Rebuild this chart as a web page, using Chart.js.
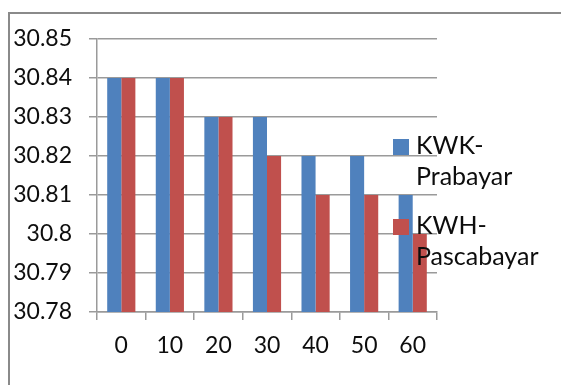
<!DOCTYPE html>
<html>
<head>
<meta charset="utf-8">
<script src="https://cdn.jsdelivr.net/npm/chart.js@4/dist/chart.umd.min.js"></script>
<style>
  html, body { margin: 0; padding: 0; background: #ffffff; }
  #wrap { width: 561px; height: 385px; }
</style>
</head>
<body>
<div id="wrap"><canvas id="c" width="561" height="385"></canvas></div>
<script>
// Meter readings per time step (minutes)
const categories = ['0', '10', '20', '30', '40', '50', '60'];
const kwkPrabayar = [30.84, 30.84, 30.83, 30.83, 30.82, 30.82, 30.81];
const kwhPascabayar = [30.84, 30.84, 30.83, 30.82, 30.81, 30.81, 30.80];
const seriesNames = ['KWK-Prabayar', 'KWH-Pascabayar'];
const yTickLabels = ['30.78', '30.79', '30.8', '30.81', '30.82', '30.83', '30.84', '30.85'];

const FONT = 'Lato, "Open Sans", sans-serif';
const FONT_SIZE = 23;
const LEGEND_FONT_SIZE = 25;
const TEXT = '#0d0d0d';
const GRID = '#9a9a9a';

// Outer frame and a legend laid over the right side of the plot
const frameAndLegend = {
  id: 'frameAndLegend',
  beforeDraw(chart) {
    const ctx = chart.ctx;
    ctx.save();
    ctx.fillStyle = '#ffffff';
    ctx.fillRect(0, 0, chart.width, chart.height);
    ctx.strokeStyle = '#8a8a8a';
    ctx.lineWidth = 2;
    ctx.beginPath();
    ctx.moveTo(9, chart.height + 2);
    ctx.lineTo(9, 13);
    ctx.lineTo(chart.width + 2, 13);
    ctx.stroke();
    ctx.restore();
  },
  afterDraw(chart) {
    const ctx = chart.ctx;
    ctx.save();
    ctx.font = LEGEND_FONT_SIZE + 'px ' + FONT;
    ctx.textBaseline = 'alphabetic';
    ctx.textAlign = 'left';
    const tops = [139, 219];
    chart.data.datasets.forEach((ds, i) => {
      const top = tops[i];
      ctx.fillStyle = ds.backgroundColor;
      ctx.fillRect(393, top, 16, 16);
      const cut = ds.label.indexOf('-') + 1;
      const lines = [ds.label.slice(0, cut), ds.label.slice(cut)];
      ctx.fillStyle = TEXT;
      ctx.fillText(lines[0], 416, top + 15);
      ctx.fillText(lines[1], 416, top + 46);
    });
    ctx.restore();
  }
};

new Chart(document.getElementById('c'), {
  type: 'bar',
  data: {
    labels: categories,
    datasets: [
      { label: seriesNames[0], data: kwkPrabayar, backgroundColor: '#4F81BD' },
      { label: seriesNames[1], data: kwhPascabayar, backgroundColor: '#C0504D' }
    ]
  },
  plugins: [frameAndLegend],
  options: {
    responsive: false,
    animation: false,
    devicePixelRatio: 1,
    layout: { padding: { top: 39, right: 124, bottom: 0, left: 0 } },
    categoryPercentage: 0.58,
    barPercentage: 1.0,
    plugins: { legend: { display: false }, tooltip: { enabled: false } },
    scales: {
      x: {
        grid: { display: true, drawOnChartArea: false, drawTicks: true, tickLength: 8, color: GRID, lineWidth: 1.5, offset: true },
        border: { display: true, color: GRID, width: 1.5 },
        ticks: { color: TEXT, font: { family: FONT, size: FONT_SIZE }, padding: 12, maxRotation: 0 },
        afterFit(scale) { scale.height = 73; }
      },
      y: {
        min: 30.78,
        max: 30.85,
        grid: { color: GRID, lineWidth: 1.5, tickLength: 8, drawTicks: true },
        border: { display: true, color: GRID, width: 1.5 },
        ticks: {
          stepSize: 0.01,
          color: TEXT,
          font: { family: FONT, size: FONT_SIZE },
          padding: 17,
          callback: (value, index) => yTickLabels[index]
        },
        afterFit(scale) { scale.width = 97; }
      }
    }
  }
});
</script>
</body>
</html>
